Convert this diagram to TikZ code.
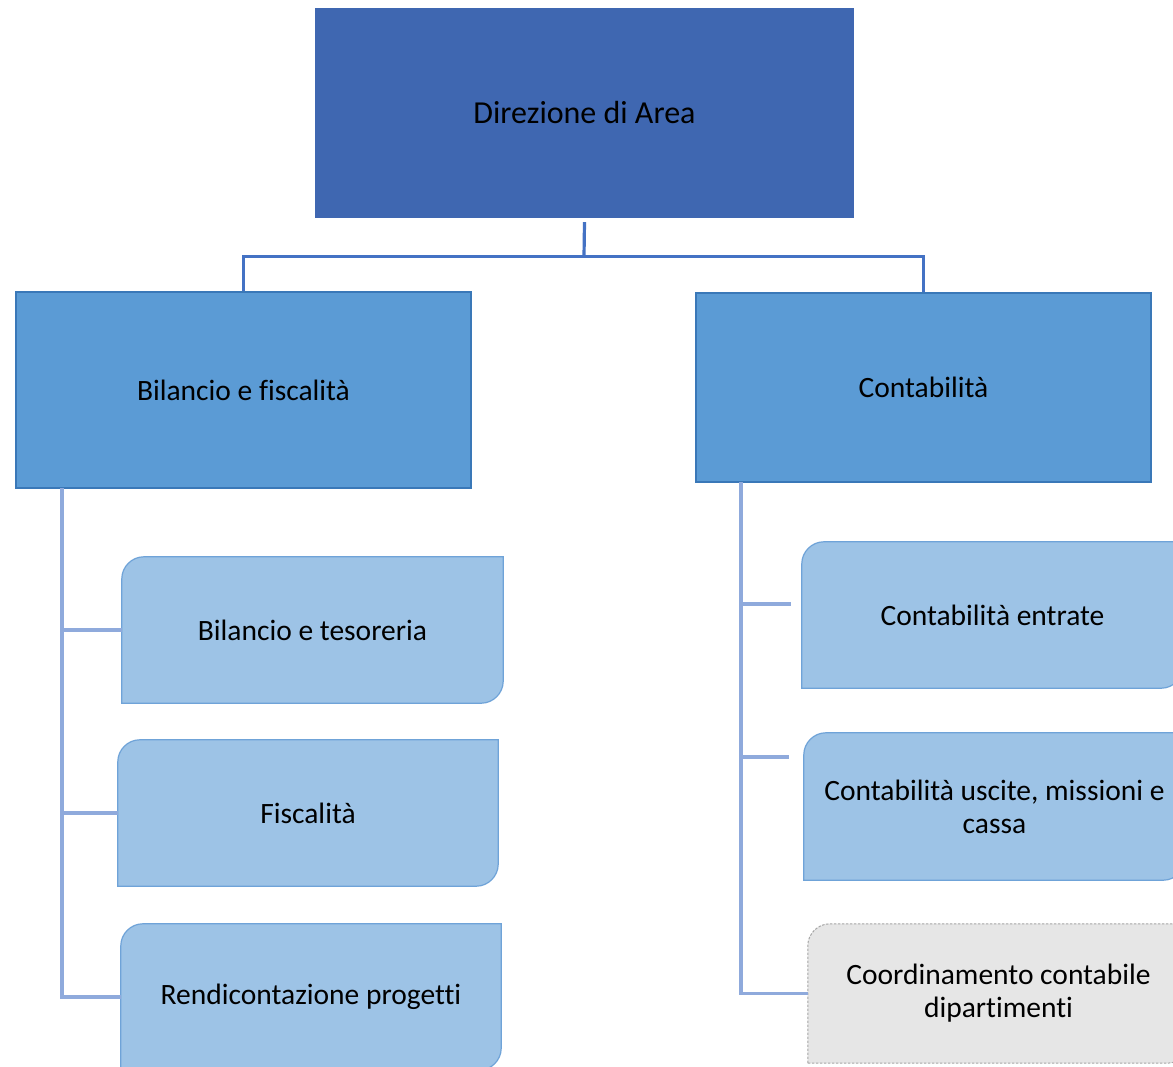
\documentclass[tikz,border=0pt]{standalone}
\usepackage{fontspec}
\setmainfont[Ligatures=NoCommon]{Carlito}
\usetikzlibrary{calc,backgrounds}
\definecolor{topfill}{HTML}{3F67B1}
\definecolor{midfill}{HTML}{5B9BD5}
\definecolor{midborder}{HTML}{3A78B8}
\definecolor{leaffill}{HTML}{9DC3E6}
\definecolor{leafborder}{HTML}{6FA3D8}
\definecolor{greyfill}{HTML}{E6E6E6}
\definecolor{greyborder}{HTML}{A6A6A6}
\definecolor{connblue}{HTML}{4472C4}
\definecolor{treeblue}{HTML}{8FAADC}
\tikzset{
  base/.style={inner sep=0pt, align=center, font=\fontsize{29.5}{33}\selectfont, text=black},
  topbox/.style={base, font=\fontsize{32}{36}\selectfont, fill=topfill, minimum width=539pt, minimum height=210pt},
  midbox/.style={base, fill=midfill, draw=midborder, line width=2.5pt, minimum width=455pt},
  leafbox/.style={base, minimum width=381pt, minimum height=146pt},
  leafdraw/.style={fill=leaffill, draw=leafborder, line width=1.2pt},
  greydraw/.style={fill=greyfill, draw=greyborder, line width=1pt, dash pattern=on 2.5pt off 1.5pt},
  conn/.style={draw=connblue, line width=3.2pt},
  tree/.style={draw=treeblue, line width=3.2pt},
}
\newcommand\leafpath[2]{%
  \path[#2] (#1.south west) -- ($(#1.north west)+(0,22)$)
    .. controls ($(#1.north west)+(0,10)$) and ($(#1.north west)+(10,0)$) .. ($(#1.north west)+(22,0)$)
    -- (#1.north east) -- ($(#1.south east)+(0,-22)$)
    .. controls ($(#1.south east)+(0,-10)$) and ($(#1.south east)+(-10,0)$) .. ($(#1.south east)+(-22,0)$)
    -- cycle;}
\begin{document}
\begin{tikzpicture}[x=1pt,y=-1pt]
\useasboundingbox (0,0) rectangle (1173,1067);
\clip (0,0) rectangle (1173,1067);

% top and middle boxes
\node[topbox] (dir) at (584.5,113) {Direzione di Area};
\node[midbox, minimum height=196pt] (bf) at (243.5,390) {Bilancio e fiscalità};
\node[midbox, minimum height=189pt] (con) at (923.5,387.5) {Contabilità};

% leaves
\node[leafbox] (bt) at (312.5,630) {Bilancio e tesoreria};
\node[leafbox, minimum width=380pt] (fi) at (308,813) {Fiscalità};
\node[leafbox, minimum width=380pt] (rp) at (311,997) {Rendicontazione progetti};
\node[leafbox] (ce) at (992.5,615) {Contabilità entrate};
\node[leafbox, minimum height=147pt] (cu) at (994.5,806.5) {Contabilità uscite, missioni e\\cassa};
\node[leafbox, minimum height=139pt] (cc) at (998.5,993.5) {Coordinamento contabile\\dipartimenti};

\begin{pgfonlayer}{background}
  \fill[white] (0,0) rectangle (1173,1067);
  \clip (0,0) rectangle (1173,1067);
  \leafpath{bt}{leafdraw}
  \leafpath{fi}{leafdraw}
  \leafpath{rp}{leafdraw}
  \leafpath{ce}{leafdraw}
  \leafpath{cu}{leafdraw}
  \leafpath{cc}{greydraw}
\end{pgfonlayer}

% top connectors
\coordinate (junc) at (584,256.5);
\draw[conn] ($(dir.south)+(0,4)$) -- (junc);
\draw[conn] (junc) -| (bf.north);
\draw[conn] (junc) -| (con.north);

% left tree
\coordinate (lt) at (62,488);
\draw[tree] (lt) |- (rp.west);
\draw[tree] (lt |- bt.west) -- (bt.west);
\draw[tree] (lt |- fi.west) -- (fi.west);

% right tree
\coordinate (rt) at (741,482);
\coordinate (ceend) at (791,604);
\coordinate (cuend) at (789,757);
\draw[tree] (rt) |- (cc.west);
\draw[tree] (rt |- ceend) -- (ceend);
\draw[tree] (rt |- cuend) -- (cuend);
\end{tikzpicture}
\end{document}
